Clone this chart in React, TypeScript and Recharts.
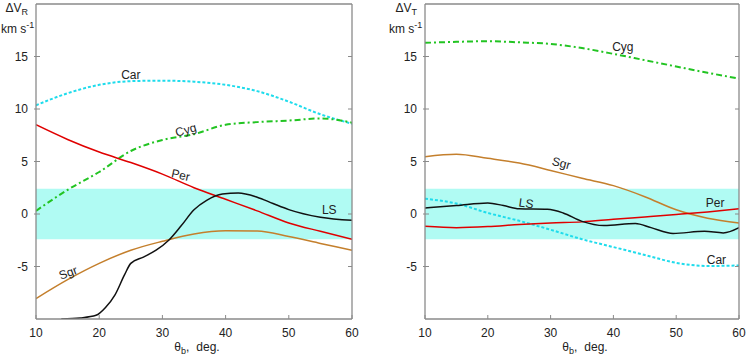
import { LineChart, Line, XAxis, YAxis, ReferenceArea, ReferenceDot } from 'recharts';

const FONT = '"Liberation Sans", Arial, sans-serif';
const GRAY = '#8a8a8a';
const INK = '#222';

// shared x grid (theta_b, deg.)
const xs = [10, 15, 20, 25, 30, 35, 40, 45, 50, 55, 60];
const xTicks = [10, 20, 30, 40, 50, 60];
const yTicks = [-5, 0, 5, 10, 15];

// dV_R panel
const carR = [10.35, 11.5, 12.3, 12.65, 12.7, 12.6, 12.3, 11.7, 10.7, 9.5, 8.6];
const cygR = [0.3, 2.3, 4.0, 6.0, 7.05, 7.6, 8.5, 8.75, 8.9, 9.1, 8.7];
const perR = [8.5, 7.1, 5.9, 4.9, 3.8, 2.5, 1.4, 0.3, -0.85, -1.65, -2.4];
const sgrR = [-8.05, -6.25, -4.7, -3.45, -2.6, -1.9, -1.6, -1.62, -2.15, -2.8, -3.45];
const lsRx = [14, 17, 19.5, 21, 22.5, 24, 25, 27, 29, 31, 33, 35, 37, 39.5, 42, 45, 47.5, 50, 55, 60];
const lsRy = [-10, -9.9, -9.65, -8.9, -7.7, -5.8, -4.7, -4.1, -3.45, -2.5, -1.1, 0.4, 1.3, 1.9, 2.0, 1.6, 1.0, 0.42, -0.3, -0.6];

// dV_T panel
const cygT = [16.3, 16.4, 16.45, 16.35, 16.2, 15.8, 15.25, 14.65, 14.05, 13.45, 12.9];
const sgrT = [5.45, 5.68, 5.3, 4.85, 4.15, 3.4, 2.7, 1.65, 0.4, -0.4, -0.85];
const carT = [1.45, 1.0, 0.1, -0.65, -1.5, -2.4, -3.15, -3.9, -4.65, -4.95, -4.9];
const perT = [-1.17, -1.3, -1.2, -1.0, -0.85, -0.75, -0.5, -0.28, -0.05, 0.2, 0.5];
const lsTx = [10, 15, 20, 22.5, 25, 29.5, 32, 35, 38.5, 43.5, 46, 49.5, 54.5, 57.5, 60];
const lsTy = [0.57, 0.8, 1.05, 0.8, 0.5, 0.45, 0.1, -0.7, -1.1, -0.9, -1.3, -1.85, -1.65, -1.8, -1.3];

// curve labels: [text, x, y, angle]
const labelsR: [string, number, number, number][] = [
  ['Car', 25, 13.2, 0],
  ['Cyg', 33.7, 8.0, -15],
  ['Per', 32.9, 3.7, 12],
  ['Sgr', 15.1, -5.6, -20],
  ['LS', 56.4, 0.35, 0],
];
const labelsT: [string, number, number, number][] = [
  ['Cyg', 41.5, 15.9, 0],
  ['Sgr', 31.7, 4.83, 15],
  ['LS', 26.1, 1.02, 8],
  ['Per', 56.2, 1.02, 0],
  ['Car', 56.4, -4.4, 0],
];

const zip = (x: number[], y: number[]) => x.map((v, i) => ({ x: v, y: y[i] }));

const styles = {
  Car: { color: '#1fdcec', dash: '3 2', width: 2 },
  Cyg: { color: '#22c422', dash: '6 3 2 3', width: 2 },
  Per: { color: '#e00000', dash: undefined, width: 1.5 },
  Sgr: { color: '#c47f2c', dash: undefined, width: 1.5 },
  LS: { color: '#111111', dash: undefined, width: 1.5 },
};

const BottomTick = (p: any) => (
  <g>
    <line x1={p.x} x2={p.x} y1={p.y} y2={p.y - 4} stroke={GRAY} />
    <text x={p.x} y={p.y + 18} textAnchor="middle" fontSize={12} fontFamily={FONT} fill={INK}>
      {p.payload.value}
    </text>
  </g>
);
const TopTick = (p: any) => <line x1={p.x} x2={p.x} y1={p.y} y2={p.y + 4} stroke={GRAY} />;
const LeftTick = (p: any) => (
  <g>
    <line x1={p.x - 2} x2={p.x + 4} y1={p.y} y2={p.y} stroke={GRAY} />
    <text x={p.x - 8} y={p.y + 4.3} textAnchor="end" fontSize={12} fontFamily={FONT} fill={INK}>
      {p.payload.value}
    </text>
  </g>
);
const RightTick = (p: any) => <line x1={p.x} x2={p.x - 4} y1={p.y} y2={p.y} stroke={GRAY} />;

type Series = { name: keyof typeof styles; data: { x: number; y: number }[] };

function Panel({ series, labels, margin }: { series: Series[]; labels: [string, number, number, number][]; margin: any }) {
  return (
    <LineChart width={373} height={360} margin={margin}>
      <XAxis
        type="number" dataKey="x" domain={[10, 60]} ticks={xTicks} interval={0}
        height={1} tickSize={0} tickMargin={0} tickLine={false} allowDataOverflow
        axisLine={{ stroke: GRAY, strokeWidth: 1.3 }} tick={BottomTick}
      />
      <XAxis
        xAxisId="t" orientation="top" type="number" domain={[10, 60]} ticks={xTicks} interval={0}
        height={1} tickSize={0} tickMargin={0} tickLine={false} allowDataOverflow
        axisLine={{ stroke: GRAY, strokeWidth: 1.3 }} tick={TopTick}
      />
      <YAxis
        type="number" domain={[-10, 20]} ticks={yTicks} interval={0}
        width={1} tickSize={0} tickMargin={0} tickLine={false} allowDataOverflow
        axisLine={{ stroke: GRAY, strokeWidth: 1.3 }} tick={LeftTick}
      />
      <YAxis
        yAxisId="r" orientation="right" type="number" domain={[-10, 20]} ticks={yTicks} interval={0}
        width={1} tickSize={0} tickMargin={0} tickLine={false} allowDataOverflow
        axisLine={{ stroke: GRAY, strokeWidth: 1.3 }} tick={RightTick}
      />
      <ReferenceArea y1={-2.4} y2={2.4} fill="#b0fbf3" fillOpacity={1} stroke="none" />
      {series.map((s) => (
        <Line
          key={s.name}
          data={s.data}
          dataKey="y"
          type="monotone"
          stroke={styles[s.name].color}
          strokeWidth={styles[s.name].width}
          strokeDasharray={styles[s.name].dash}
          dot={false}
          activeDot={false}
          isAnimationActive={false}
        />
      ))}
      {labels.map(([t, x, y, a]) => (
        <ReferenceDot
          key={t}
          x={x}
          y={y}
          r={0}
          shape={(p: any) => (
            <text
              x={p.cx} y={p.cy} textAnchor="middle" dominantBaseline="central"
              transform={`rotate(${a}, ${p.cx}, ${p.cy})`}
              fontSize={12} fontFamily={FONT} fill={INK}
            >
              {t}
            </text>
          )}
        />
      ))}
    </LineChart>
  );
}

export default function App() {
  const left: Series[] = [
    { name: 'Car', data: zip(xs, carR) },
    { name: 'Cyg', data: zip(xs, cygR) },
    { name: 'Sgr', data: zip(xs, sgrR) },
    { name: 'Per', data: zip(xs, perR) },
    { name: 'LS', data: zip(lsRx, lsRy) },
  ];
  const right: Series[] = [
    { name: 'Cyg', data: zip(xs, cygT) },
    { name: 'Sgr', data: zip(xs, sgrT) },
    { name: 'Car', data: zip(xs, carT) },
    { name: 'Per', data: zip(xs, perT) },
    { name: 'LS', data: zip(lsTx, lsTy) },
  ];
  const txt = { fontSize: 12, fontFamily: FONT, fill: INK };
  return (
    <div style={{ position: 'absolute', left: 0, top: 0, width: 746, height: 360, background: '#fff' }}>
      <div style={{ display: 'flex' }}>
        <Panel series={left} labels={labelsR} margin={{ top: 3, right: 20, bottom: 40, left: 35 }} />
        <Panel series={right} labels={labelsT} margin={{ top: 3, right: 6, bottom: 40, left: 51 }} />
      </div>
      <svg width={746} height={360} style={{ position: 'absolute', left: 0, top: 0, pointerEvents: 'none' }}>
        <text x={28} y={12} textAnchor="end" {...txt}>
          ΔV<tspan dy={3} fontSize={9}>R</tspan>
        </text>
        <text x={1} y={33} {...txt}>
          km s<tspan dy={-5} fontSize={9}>-1</tspan>
        </text>
        <text x={417} y={12} textAnchor="end" {...txt}>
          ΔV<tspan dy={3} fontSize={9}>T</tspan>
        </text>
        <text x={389} y={33} {...txt}>
          km s<tspan dy={-5} fontSize={9}>-1</tspan>
        </text>
        <text x={197} y={351} textAnchor="middle" {...txt}>
          θ<tspan dy={3} fontSize={9}>b</tspan><tspan dy={-3}>,</tspan><tspan dx={7}>deg.</tspan>
        </text>
        <text x={585} y={351} textAnchor="middle" {...txt}>
          θ<tspan dy={3} fontSize={9}>b</tspan><tspan dy={-3}>,</tspan><tspan dx={7}>deg.</tspan>
        </text>
      </svg>
    </div>
  );
}
